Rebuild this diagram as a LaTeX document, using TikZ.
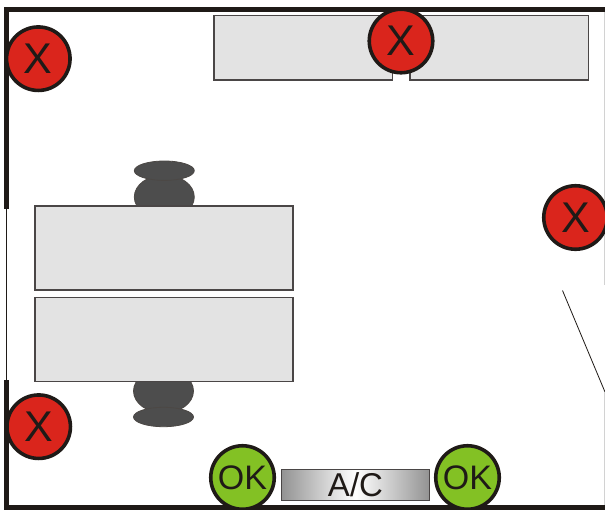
\documentclass[tikz,border=0pt]{standalone}
\usepackage{fontspec}
\setmainfont{Liberation Sans}
\definecolor{wallc}{HTML}{1F1A17}
\definecolor{deskc}{HTML}{E3E3E3}
\definecolor{deskl}{HTML}{4A4646}
\definecolor{chairc}{HTML}{4D4D4D}
\definecolor{redc}{HTML}{DA251C}
\definecolor{greenc}{HTML}{83C124}
\tikzset{
  wall/.style={draw=wallc,line width=5pt,line cap=butt},
  thinwall/.style={draw=wallc,line width=0.8pt},
  desk/.style={draw=deskl,fill=deskc,line width=1.1pt},
  chairpart/.style={draw=wallc!80!white,fill=chairc,line width=0.8pt},
  marker/.style={circle,draw=wallc,line width=3.6pt,minimum size=63.5pt,outer sep=0pt,inner sep=0pt,font=\fontsize{43}{43}\selectfont,text=wallc},
  bad/.style={marker,fill=redc},
  good/.style={marker,fill=greenc,font=\fontsize{34}{34}\selectfont},
  acunit/.style={draw=deskl,line width=1.1pt,outer sep=0pt,left color=gray!85,right color=gray!85,middle color=white,font=\fontsize{33}{33}\selectfont,text=wallc,inner sep=0pt},
}
\begin{document}
\begin{tikzpicture}[x=1pt,y=-1pt]
\useasboundingbox (0,0) rectangle (605,509);
\fill[white] (0,0) rectangle (605,509);
% walls
\draw[wall] (605,9.5) -- (6.5,9.5) -- (6.5,209);
\draw[wall] (6.5,380) -- (6.5,507) -- (605,507);
\draw[thinwall] (6.7,209) -- (6.7,380);
\draw[thinwall] (562.5,290.5) -- (605,392);
\draw[draw=gray!35,line width=0.8pt] (604.5,12) -- (604.5,285);
\draw[draw=gray!35,line width=0.8pt] (604.5,392) -- (604.5,505);
% desks at top
\draw[desk] (214,15.7) rectangle (392.5,80);
\draw[desk] (410,15.7) rectangle (588.5,80);
% chairs
\draw[chairpart] (164.3,197) ellipse (30 and 22);
\draw[chairpart] (164.3,170.7) ellipse (30 and 9.7);
\draw[chairpart] (163.5,391) ellipse (30 and 22);
\draw[chairpart] (163.5,417) ellipse (30 and 9.7);
% tables
\draw[desk] (35,206) rectangle (293,290);
\draw[desk] (35,297.5) rectangle (293,381.5);
% markers
\node[bad] (x1) at (38.3,58.7) {X};
\node[bad] (x2) at (401,41) {X};
\node[bad] (x3) at (575.5,217.5) {X};
\node[bad] (x4) at (38.7,426.7) {X};
\node[acunit,minimum width=148pt,minimum height=31.5pt] (ac) at (355.5,485) {A/C};
\node[good] (ok1) at (242.5,477.5) {OK};
\node[good] (ok2) at (467.5,477.5) {OK};
\end{tikzpicture}
\end{document}
